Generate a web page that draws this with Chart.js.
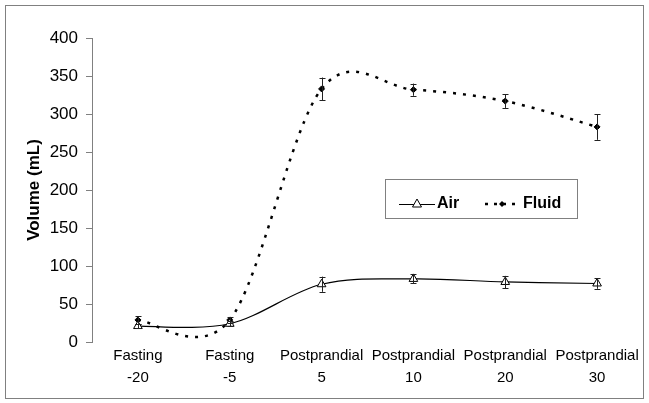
<!DOCTYPE html>
<html>
<head>
<meta charset="utf-8">
<script src="https://cdn.jsdelivr.net/npm/chart.js@4.4.1/dist/chart.umd.min.js"></script>
<style>
  body { margin: 0; background: #fff; }
  canvas { display: block; }
</style>
</head>
<body>
<canvas id="chartVolume" width="649" height="403"></canvas>
<script>
var categories = [
    ["Fasting", "-20"],
    ["Fasting", "-5"],
    ["Postprandial", "5"],
    ["Postprandial", "10"],
    ["Postprandial", "20"],
    ["Postprandial", "30"],
];
var airMean = [21, 24, 76, 83, 79, 77];
var airErr = [3, 3, 10, 6, 8, 7];
var fluidMean = [29, 29, 333, 332, 317, 283];
var fluidErr = [5, 4, 15, 8, 9, 17];
var yTicks = [0, 50, 100, 150, 200, 250, 300, 350, 400];

var errors = [airErr, fluidErr];
var FONT = "'Liberation Sans', Arial, sans-serif";

// frame around the whole picture
const framePlugin = {
    id: "frame",
    beforeDraw(chart) {
        const ctx = chart.ctx;
        ctx.save();
        ctx.fillStyle = "#fff";
        ctx.fillRect(0, 0, chart.width, chart.height);
        ctx.strokeStyle = "#808080";
        ctx.lineWidth = 1;
        ctx.strokeRect(5.5, 5.5, 638, 393);
        ctx.restore();
    },
};

// excel-like smoothing: control points at +-(next - prev)/6
const smoothPlugin = {
    id: "excelSmooth",
    beforeDatasetsDraw(chart) {
        chart.data.datasets.forEach(function (ds, i) {
            const meta = chart.getDatasetMeta(i);
            const pts = meta.data;
            const n = pts.length;
            for (let j = 0; j < n; j++) {
                const prev = pts[Math.max(j - 1, 0)];
                const next = pts[Math.min(j + 1, n - 1)];
                const dx = (next.x - prev.x) / 6;
                const dy = (next.y - prev.y) / 6;
                pts[j].cp1x = pts[j].x - dx;
                pts[j].cp1y = pts[j].y - dy;
                pts[j].cp2x = pts[j].x + dx;
                pts[j].cp2y = pts[j].y + dy;
            }
            meta.dataset._pointsUpdated = true;
        });
    },
};

// error bars from the y scale
const errorBarPlugin = {
    id: "errorBars",
    afterDatasetsDraw(chart) {
        const ctx = chart.ctx;
        const y = chart.scales.y;
        ctx.save();
        ctx.strokeStyle = "#222";
        ctx.lineWidth = 1;
        chart.data.datasets.forEach(function (ds, i) {
            const meta = chart.getDatasetMeta(i);
            meta.data.forEach(function (pt, j) {
                const top = y.getPixelForValue(ds.data[j] + errors[i][j]);
                const bot = y.getPixelForValue(ds.data[j] - errors[i][j]);
                const x = Math.round(pt.x) + 0.5;
                ctx.beginPath();
                ctx.moveTo(x, top);
                ctx.lineTo(x, bot);
                ctx.moveTo(x - 3, Math.round(top) + 0.5);
                ctx.lineTo(x + 3, Math.round(top) + 0.5);
                ctx.moveTo(x - 3, Math.round(bot) + 0.5);
                ctx.lineTo(x + 3, Math.round(bot) + 0.5);
                ctx.stroke();
            });
        });
        ctx.restore();
    },
};

// boxed legend inside the plot
const legendBoxPlugin = {
    id: "legendBox",
    afterDraw(chart) {
        const ctx = chart.ctx;
        ctx.save();
        ctx.strokeStyle = "#808080";
        ctx.lineWidth = 1;
        ctx.strokeRect(385.5, 179.5, 192, 39);
        const cy = 204;
        // Air
        ctx.strokeStyle = "#000";
        ctx.beginPath();
        ctx.moveTo(399, cy + 0.5);
        ctx.lineTo(435, cy + 0.5);
        ctx.stroke();
        ctx.fillStyle = "#fff";
        ctx.beginPath();
        ctx.moveTo(417, cy - 5);
        ctx.lineTo(421.5, cy + 3);
        ctx.lineTo(412.5, cy + 3);
        ctx.closePath();
        ctx.fill();
        ctx.stroke();
        // Fluid
        ctx.lineWidth = 2.5;
        ctx.setLineDash([3, 6]);
        ctx.beginPath();
        ctx.moveTo(485, cy);
        ctx.lineTo(521, cy);
        ctx.stroke();
        ctx.setLineDash([]);
        ctx.fillStyle = "#000";
        ctx.beginPath();
        ctx.moveTo(502, cy - 3);
        ctx.lineTo(505, cy);
        ctx.lineTo(502, cy + 3);
        ctx.lineTo(499, cy);
        ctx.closePath();
        ctx.fill();
        ctx.font = "bold 16px " + FONT;
        ctx.textBaseline = "middle";
        ctx.fillText("Air", 437, cy);
        ctx.fillText("Fluid", 523, cy);
        ctx.restore();
    },
};

const configVolume = {
    type: "line",
    data: {
        labels: categories,
        datasets: [
            {
                label: "Air",
                data: airMean,
                borderColor: "#000",
                borderWidth: 1.2,
                pointStyle: "triangle",
                pointRadius: 5,
                pointBackgroundColor: "#fff",
                pointBorderColor: "#000",
                pointBorderWidth: 1,
                tension: 0.4,
            },
            {
                label: "Fluid",
                data: fluidMean,
                borderColor: "#000",
                borderWidth: 2.5,
                borderDash: [3, 7],
                pointStyle: "rectRot",
                pointRadius: 3,
                pointBackgroundColor: "#000",
                pointBorderColor: "#000",
                pointBorderWidth: 1,
                tension: 0.4,
            },
        ],
    },
    options: {
        responsive: false,
        animation: false,
        layout: {
            padding: { top: 38, right: 3, bottom: 0, left: 0 },
        },
        plugins: {
            legend: false,
            tooltip: false,
        },
        scales: {
            x: {
                offset: true,
                grid: { display: false, drawTicks: false },
                border: { display: false },
                ticks: {
                    color: "#000",
                    padding: 3,
                    maxRotation: 0,
                    autoSkip: false,
                    font: { family: FONT, size: 15, lineHeight: "22px" },
                },
                afterFit(scale) {
                    scale.height = 61;
                },
            },
            y: {
                min: 0,
                max: 400,
                afterBuildTicks(scale) {
                    scale.ticks = yTicks.map(function (v) { return { value: v }; });
                },
                grid: {
                    drawOnChartArea: false,
                    tickLength: 6,
                    color: "#808080",
                },
                border: { color: "#808080" },
                ticks: {
                    color: "#000",
                    padding: 8,
                    font: { family: FONT, size: 17 },
                },
                title: {
                    display: true,
                    text: "Volume (mL)",
                    color: "#000",
                    padding: { top: 24, bottom: 0 },
                    font: { family: FONT, size: 17, weight: "bold", lineHeight: 1.2 },
                },
                afterFit(scale) {
                    scale.width = 92;
                },
            },
        },
    },
    plugins: [framePlugin, smoothPlugin, errorBarPlugin, legendBoxPlugin],
};

var chartVolume = new Chart(document.getElementById("chartVolume"), configVolume);
</script>
</body>
</html>
